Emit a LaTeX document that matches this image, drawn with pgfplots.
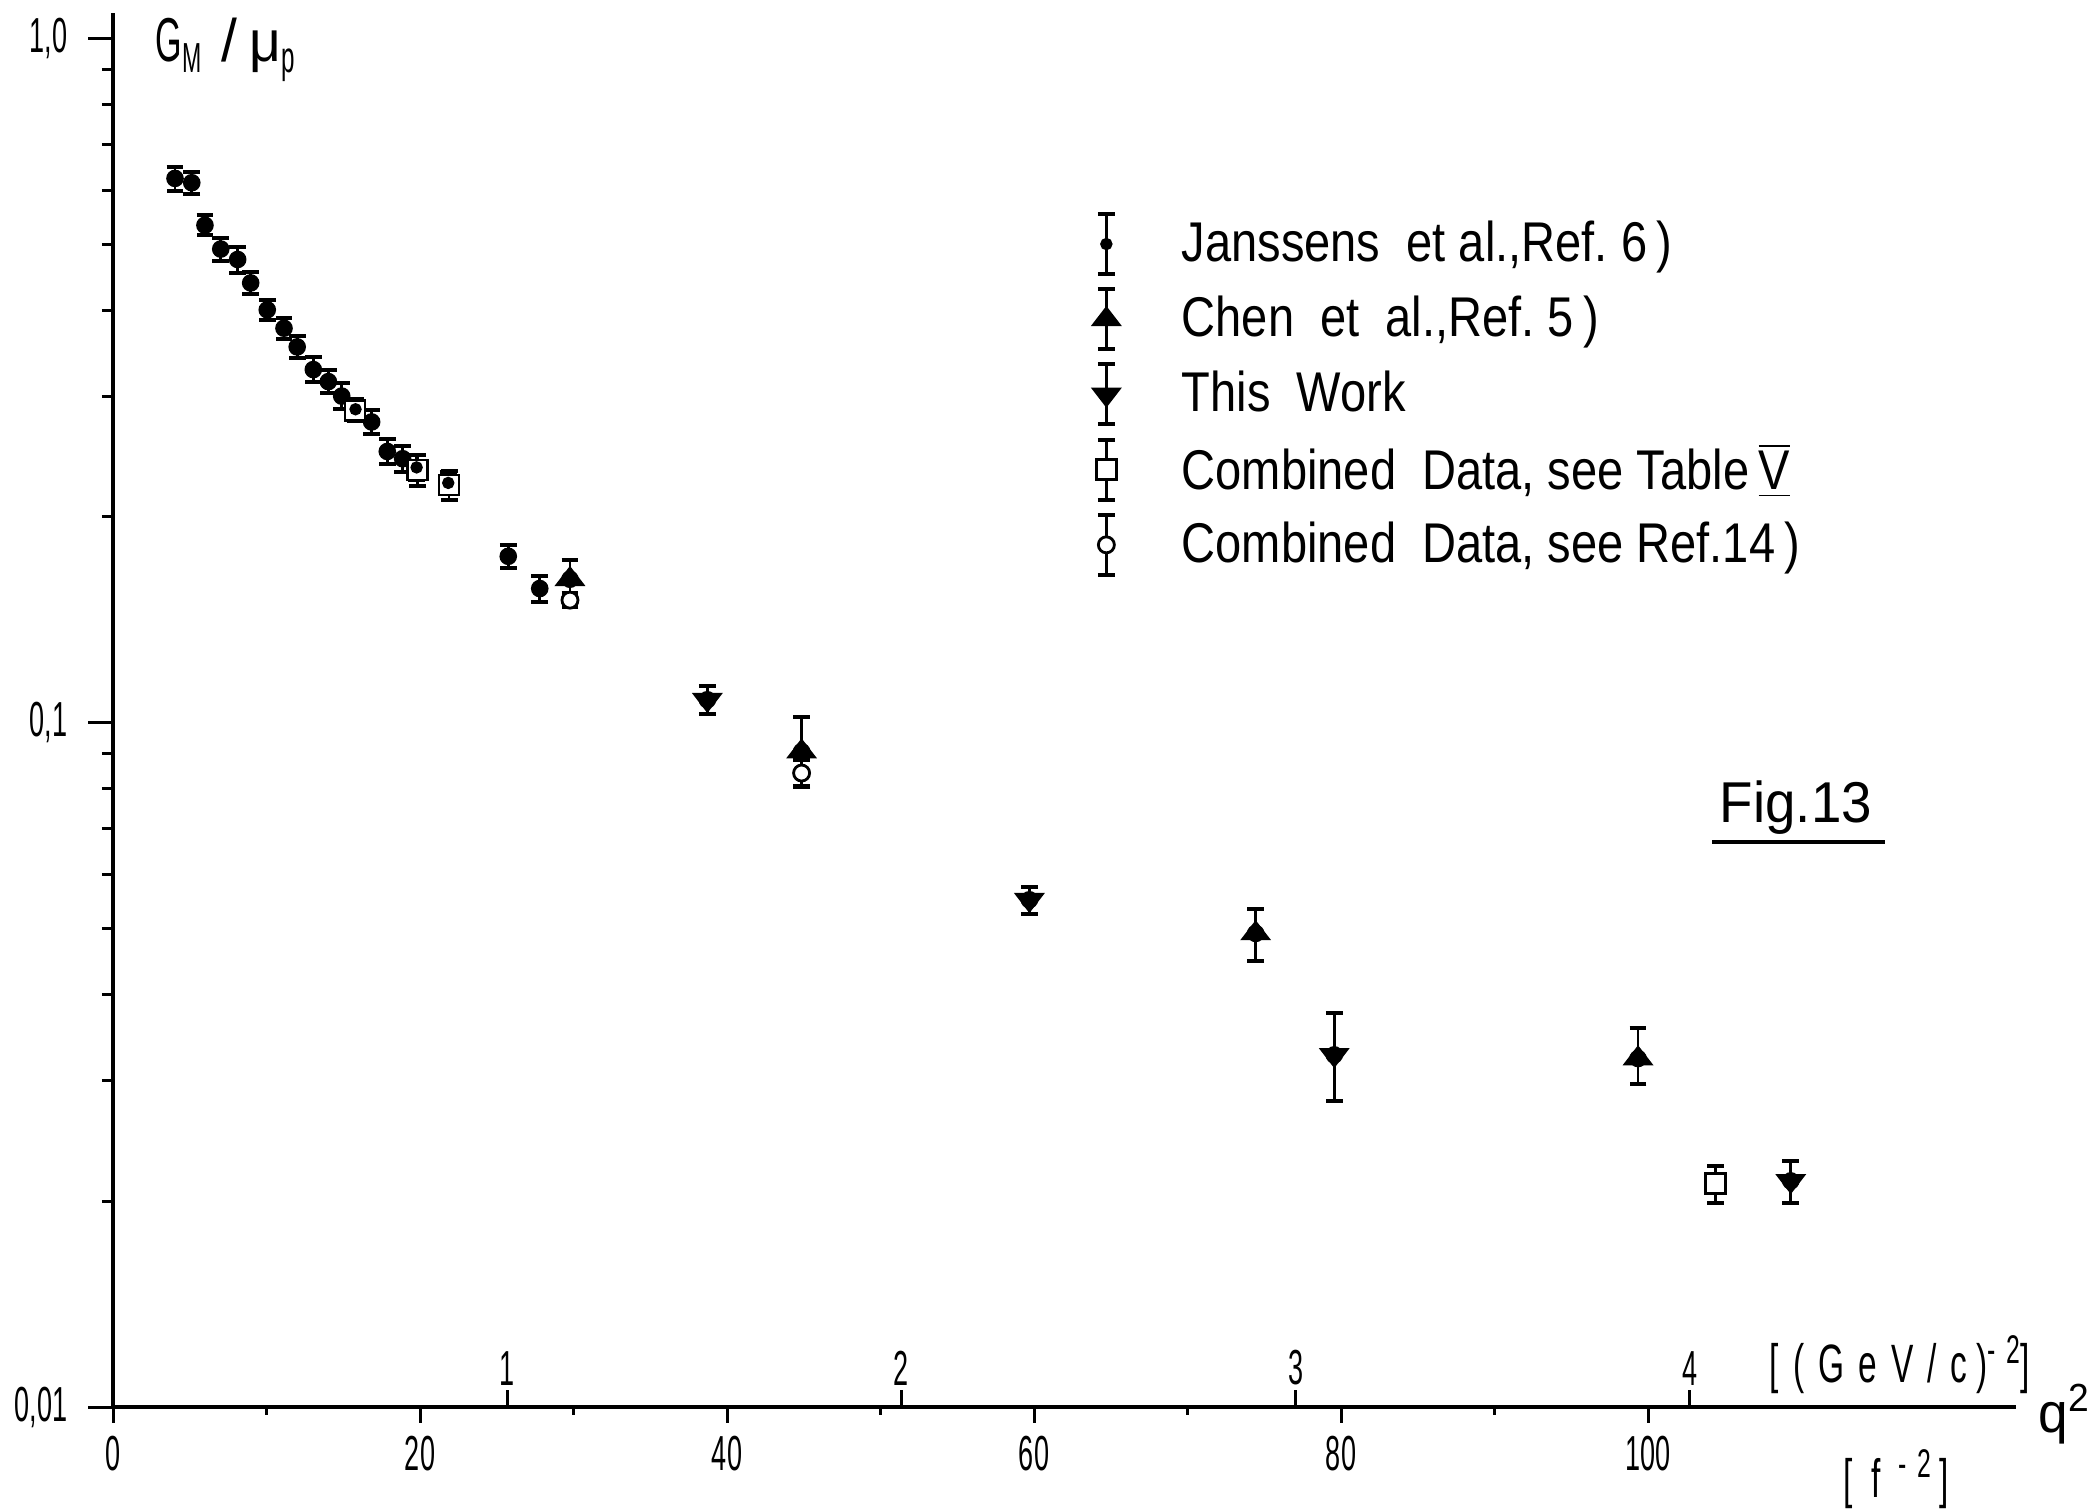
\documentclass[border=0pt]{standalone}
\usepackage{fontspec}
\setmainfont{Liberation Sans}[FakeStretch=0.84]
\newfontfamily\tickfont{Liberation Sans}[FakeStretch=0.55]
\newfontfamily\unitfont{Liberation Sans}[FakeStretch=0.62, LetterSpace=26]
\newfontfamily\figfont{Liberation Sans}[FakeStretch=0.95]
\usepackage{pgfplots}
\pgfplotsset{compat=1.18}
\pgfplotsset{
 eb/.style={only marks, mark=none, forget plot,
   error bars/.cd, y dir=both, y explicit,
   error bar style={line width=0.65pt, black},
   error mark options={rotate=90, mark size=2.1pt, line width=1pt, black}},
 legerr/.style={legend image code/.code={
   \draw[line width=0.65pt,black] (0pt,-7.5pt) -- (0pt,7.5pt);
   \draw[line width=1pt,black] (-2.1pt,-7.5pt) -- (2.1pt,-7.5pt) (-2.1pt,7.5pt) -- (2.1pt,7.5pt);
   \path[draw=none, fill=none] (-2.1pt,-9.4pt) rectangle (2.1pt,9.4pt);
   \draw[mark repeat=1] plot coordinates {(0pt,0pt)};
 }},
 mJ/.style={only marks, mark=*, mark size=1.35pt, black},
 mC/.style={only marks, mark=triangle*, mark size=4pt, black, mark options={yscale=0.75}},
 mT/.style={only marks, mark=triangle*, mark size=4pt, black, mark options={rotate=180, yscale=0.75}},
 mS/.style={only marks, mark=square*, mark size=2.5pt, black, mark options={fill=white, line width=0.6pt}},
 mO/.style={only marks, mark=*, mark size=2pt, black, mark options={fill=white, line width=0.7pt}},
}
\begin{document}
\begin{tikzpicture}
\useasboundingbox (0,0) rectangle (522.25pt,377.75pt);
% x ticks (major/minor) and half-step y ticks
\begin{axis}[scale only axis, width=475.85pt, height=348.6pt,
   at={(28.25pt,26pt)}, anchor=south west,
   xmin=0, xmax=124, ymin=0.01, ymax=1.09, ymode=log,
   axis x line*=bottom, axis y line*=left,
   axis line style={line width=0.9pt},
   tick style={black, line width=0.75pt},
   tick label style={font=\tickfont\fontsize{12.3}{14}\selectfont},
   clip=false,
  xtick={0,20,40,60,80,100}, xticklabels={0,20,40,60,80,100},
  minor xtick={10,30,50,70,90}, ytick=\empty, minor ytick={0.015,0.025,0.035,0.15,0.25,0.35},
  tick align=outside, major tick length=4pt, minor tick length=2pt,
  xticklabel style={anchor=north, inner sep=0pt, yshift=-3pt}]
\end{axis}
% GeV ticks
\begin{axis}[scale only axis, width=475.85pt, height=348.6pt,
   at={(28.25pt,26pt)}, anchor=south west,
   xmin=0, xmax=124, ymin=0.01, ymax=1.09, ymode=log,
   axis x line*=bottom, axis y line=none,
   axis line style={line width=0.9pt},
   tick style={black, line width=0.75pt},
   tick label style={font=\tickfont\fontsize{12.3}{14}\selectfont},
   clip=false,
  xtick={25.68,51.36,77.04,102.72}, xticklabels={1,2,3,4},
  ytick=\empty, tick align=inside, major tick length=4.25pt,
  xticklabel style={anchor=south, inner sep=0pt, yshift=5.25pt}]
\end{axis}
% main axis with data
\begin{axis}[scale only axis, width=475.85pt, height=348.6pt,
   at={(28.25pt,26pt)}, anchor=south west,
   xmin=0, xmax=124, ymin=0.01, ymax=1.09, ymode=log,
   axis x line*=bottom, axis y line*=left,
   axis line style={line width=0.9pt},
   tick style={black, line width=0.75pt},
   tick label style={font=\tickfont\fontsize{12.3}{14}\selectfont},
   clip=false,
  xtick=\empty, ytick={0.01,0.1,1}, yticklabels={{0,01},{0,1},{1,0}},
  minor ytick={0.02,0.03,0.04,0.05,0.06,0.07,0.08,0.09,0.2,0.3,0.4,0.5,0.6,0.7,0.8,0.9},
  tick align=outside, major tick length=6.25pt, minor tick length=2.75pt,
  yticklabel style={anchor=east, inner sep=0pt, xshift=-5pt},
  legend style={at={(axis description cs:0.5146,0.861)}, anchor=north west, draw=none, fill=none,
    inner sep=0pt, outer sep=0pt, row sep=0pt, column sep=15.4pt,
    font=\fontsize{14}{16}\selectfont, nodes={inner sep=0pt}},
  legend cell align=left]
% error bars
\addplot[eb] coordinates {
(4.04,0.624) +- (0,0.025)
(5.13,0.615) +- (0,0.023)
(5.99,0.533) +- (0,0.018)
(7.02,0.492) +- (0,0.019)
(8.12,0.475) +- (0,0.021)
(8.97,0.439) +- (0,0.0165)
(10.05,0.401) +- (0,0.013)
(11.14,0.377) +- (0,0.013)
(12.0,0.354) +- (0,0.013)
(13.05,0.328) +- (0,0.0136)
(14.03,0.315) +- (0,0.012)
(14.9,0.300) +- (0,0.013)
(15.8,0.287) +- (0,0.010)
(16.85,0.275) +- (0,0.011)
(17.87,0.249) +- (0,0.0105)
(18.87,0.243) +- (0,0.011)
(19.78,0.236) +- (0,0.010)
(21.84,0.224) +- (0,0.008)
(25.75,0.175) +- (0,0.0066)
(27.8,0.157) +- (0,0.007)
};
\addplot[eb] coordinates {
(15.77,0.286) +- (0,0.010)
(19.85,0.234) +- (0,0.012)
(21.9,0.2225) +- (0,0.011)
(104.4,0.0212) +- (0,0.0013)
};
\addplot[eb] coordinates {
(29.77,0.162) += (0,0.011) -= (0,0.008)
(44.86,0.0907) += (0,0.0113) -= (0,0.010)
(74.44,0.0492) +- (0,0.0043)
(99.35,0.0323) += (0,0.0035) -= (0,0.0027)
};
\addplot[eb] coordinates {
(38.72,0.108) +- (0,0.005)
(59.7,0.0551) +- (0,0.0025)
(79.56,0.0327) += (0,0.005) -= (0,0.0047)
(109.3,0.0214) +- (0,0.0015)
};
\addplot[eb] coordinates {
(29.77,0.151) +- (0,0.0035)
(44.86,0.0844) +- (0,0.0038)
};
% marks
\addplot[mS, forget plot] coordinates {(15.77,0.286) (19.85,0.234) (21.9,0.2225) (104.4,0.0212)};
\addplot[mJ, forget plot] coordinates {
(4.04,0.624) (5.13,0.615) (5.99,0.533) (7.02,0.492) (8.12,0.475) (8.97,0.439)
(10.05,0.401) (11.14,0.377) (12.0,0.354) (13.05,0.328) (14.03,0.315) (14.9,0.300)
(15.8,0.287) (16.85,0.275) (17.87,0.249) (18.87,0.243) (19.78,0.236) (21.84,0.224)
(25.75,0.175) (27.8,0.157)};
\addplot[mC, forget plot] coordinates {(29.77,0.162) (44.86,0.0907) (74.44,0.0492) (99.35,0.0323)};
\addplot[mT, forget plot] coordinates {(38.72,0.108) (59.7,0.0551) (79.56,0.0327) (109.3,0.0214)};
\addplot[mO, forget plot] coordinates {(29.77,0.151) (44.86,0.0844)};
% legend
\addlegendimage{legerr, mJ}
\addlegendentry{Janssens~~et al.,Ref.~6\,)}
\addlegendimage{legerr, mC}
\addlegendentry{Chen~~et~~al.,Ref.~5\,)}
\addlegendimage{legerr, mT}
\addlegendentry{This~~Work}
\addlegendimage{legerr, mS}
\addlegendentry{Combined~~Data, see Table\,$\overline{\underline{\hbox{V}}}$}
\addlegendimage{legerr, mO}
\addlegendentry{Combined~~Data, see Ref.14\,)}
\end{axis}
% text
\node[anchor=base west, inner sep=0pt] at (38.75pt,362.25pt)
  {\tickfont\fontsize{15.5}{17}\selectfont G\raisebox{-2.6pt}{\fontsize{10.5}{12}\selectfont M}\hspace{5pt}{\figfont\fontsize{15}{17}\selectfont /}\hspace{3pt}{\figfont\fontsize{14.5}{17}\selectfont μ}\raisebox{-2.6pt}{\tickfont\fontsize{11}{12}\selectfont p}};
\node[anchor=base west, inner sep=0pt, font=\figfont\fontsize{14.4}{16}\selectfont] at (429.75pt,172pt) {Fig.13};
\draw[line width=1pt] (428pt,167.25pt) -- (471.25pt,167.25pt);
\node[anchor=base west, inner sep=0pt, font=\unitfont\fontsize{13.5}{15}\selectfont] at (442.25pt,32pt)
  {[(GeV/c\,)\raisebox{5pt}{\fontsize{10}{11}\selectfont -2}]};
\node[anchor=base west, inner sep=0pt, font=\figfont\fontsize{14}{16}\selectfont] at (509.5pt,19.75pt) {q\textsuperscript{2}};
\node[anchor=base west, inner sep=0pt, font=\unitfont\fontsize{13.5}{15}\selectfont] at (460.75pt,3.5pt)
  {[\,\,f\,\,\raisebox{5pt}{\fontsize{10}{11}\selectfont -2}\,]};
\end{tikzpicture}
\end{document}
